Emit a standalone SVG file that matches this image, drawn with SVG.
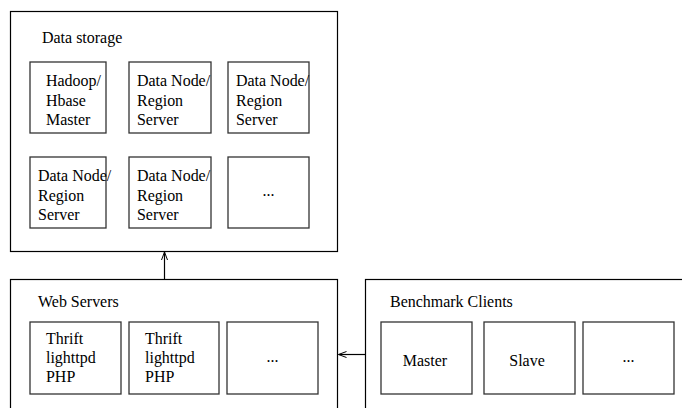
<svg xmlns="http://www.w3.org/2000/svg" width="682" height="408" viewBox="0 0 682 408">
<style>
.outer{fill:#fff;stroke:#000;stroke-width:1.2}
.inner{fill:#fff;stroke:#333;stroke-width:1.3}
text{font-family:"Liberation Serif","Times New Roman",serif;font-size:17px;fill:#000}
.c{text-anchor:middle}
.conn{stroke:#000;stroke-width:1.2;fill:none}
</style>
<defs>
<marker id="ah" markerWidth="10" markerHeight="8" refX="9" refY="4" orient="auto" markerUnits="userSpaceOnUse">
<path d="M1,1 L9,4 L1,7" fill="none" stroke="#000" stroke-width="1"/>
</marker>
</defs>
<g id="data-storage">
<rect class="outer" x="10.5" y="11.5" width="327" height="240"/>
<g transform="scale(0.94 1)"><text x="44.68" y="43">Data storage</text></g>
</g>
<g id="hbase-master">
<rect class="inner" x="30" y="62" width="76" height="71"/>
<g transform="scale(0.94 1)">
<text x="48.94" y="86.5">Hadoop/</text>
<text x="48.94" y="106">Hbase</text>
<text x="48.94" y="125.5">Master</text>
</g>
</g>
<g id="region-server-1">
<rect class="inner" x="129" y="62" width="82" height="71"/>
<g transform="scale(0.94 1)">
<text x="145.74" y="86.5">Data Node/</text>
<text x="145.74" y="106">Region</text>
<text x="145.74" y="125.5">Server</text>
</g>
</g>
<g id="region-server-2">
<rect class="inner" x="228" y="62" width="81" height="71"/>
<g transform="scale(0.94 1)">
<text x="251.06" y="86.5">Data Node/</text>
<text x="251.06" y="106">Region</text>
<text x="251.06" y="125.5">Server</text>
</g>
</g>
<g id="region-server-3">
<rect class="inner" x="30" y="157" width="76" height="71"/>
<g transform="scale(0.94 1)">
<text x="40.43" y="181.5">Data Node/</text>
<text x="40.43" y="201">Region</text>
<text x="40.43" y="220.5">Server</text>
</g>
</g>
<g id="region-server-4">
<rect class="inner" x="129" y="157" width="82" height="71"/>
<g transform="scale(0.94 1)">
<text x="145.74" y="181.5">Data Node/</text>
<text x="145.74" y="201">Region</text>
<text x="145.74" y="220.5">Server</text>
</g>
</g>
<g id="region-server-more">
<rect class="inner" x="228" y="157" width="81" height="71"/>
<g transform="scale(0.94 1)"><text class="c" x="285.64" y="196">...</text></g>
</g>
<g id="web-servers">
<rect class="outer" x="10.5" y="279.5" width="327" height="140"/>
<g transform="scale(0.94 1)"><text x="40.43" y="307">Web Servers</text></g>
</g>
<g id="web-1">
<rect class="inner" x="30" y="322" width="91" height="72"/>
<g transform="scale(0.94 1)">
<text x="48.94" y="344">Thrift</text>
<text x="48.94" y="363">lighttpd</text>
<text x="48.94" y="382">PHP</text>
</g>
</g>
<g id="web-2">
<rect class="inner" x="129" y="322" width="90" height="72"/>
<g transform="scale(0.94 1)">
<text x="154.26" y="344">Thrift</text>
<text x="154.26" y="363">lighttpd</text>
<text x="154.26" y="382">PHP</text>
</g>
</g>
<g id="web-more">
<rect class="inner" x="227" y="322" width="91" height="72"/>
<g transform="scale(0.94 1)"><text class="c" x="289.89" y="362">...</text></g>
</g>
<g id="benchmark-clients">
<rect class="outer" x="365.5" y="279.5" width="330" height="140"/>
<g transform="scale(0.94 1)"><text x="414.89" y="307">Benchmark Clients</text></g>
</g>
<g id="client-master">
<rect class="inner" x="381" y="322" width="91" height="72"/>
<g transform="scale(0.94 1)"><text class="c" x="452.13" y="366">Master</text></g>
</g>
<g id="client-slave">
<rect class="inner" x="484" y="322" width="91" height="72"/>
<g transform="scale(0.94 1)"><text class="c" x="560.64" y="366">Slave</text></g>
</g>
<g id="client-more">
<rect class="inner" x="583" y="322" width="91" height="72"/>
<g transform="scale(0.94 1)"><text class="c" x="668.62" y="362">...</text></g>
</g>
<g id="connectors">
<line class="conn" x1="164.5" y1="279.5" x2="164.5" y2="252" marker-end="url(#ah)"/>
<line class="conn" x1="365.5" y1="354.5" x2="338.5" y2="354.5" marker-end="url(#ah)"/>
</g>
</svg>
